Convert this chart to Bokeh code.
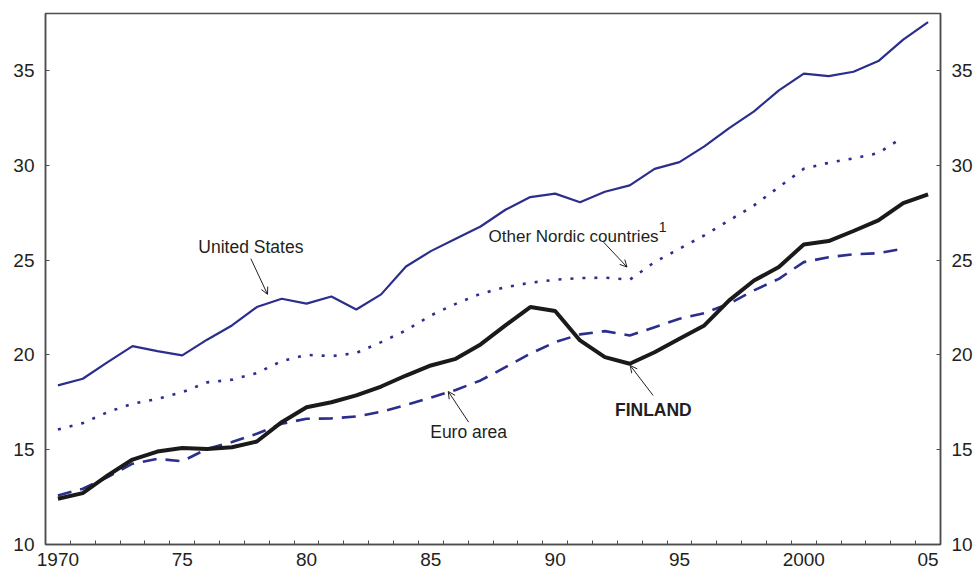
from bokeh.plotting import figure
from bokeh.models import Range1d, LinearAxis, FixedTicker, Arrow, OpenHead
from bokeh.core.properties import value
from bokeh.embed import file_html
from bokeh.resources import INLINE

years_full = list(range(1970, 2006))
years_short = list(range(1970, 2005))

united_states = [18.39, 18.74, 19.62, 20.46, 20.2, 19.97, 20.8, 21.55, 22.52, 22.96,
                 22.7, 23.08, 22.39, 23.19, 24.66, 25.47, 26.12, 26.77, 27.65, 28.32,
                 28.5, 28.05, 28.6, 28.94, 29.81, 30.16, 30.99, 31.96, 32.84, 33.95,
                 34.83, 34.7, 34.93, 35.49, 36.62, 37.55]
other_nordic = [16.07, 16.4, 16.98, 17.42, 17.68, 18.03, 18.55, 18.69, 19.04, 19.67,
                20.0, 19.93, 20.1, 20.67, 21.29, 22.08, 22.69, 23.22, 23.57, 23.8,
                23.96, 24.05, 24.07, 23.96, 24.89, 25.6, 26.3, 27.09, 27.88, 28.85,
                29.81, 30.13, 30.36, 30.64, 31.48]
euro_area = [12.58, 12.94, 13.55, 14.26, 14.52, 14.39, 15.04, 15.4, 15.84, 16.37,
             16.63, 16.65, 16.75, 17.0, 17.35, 17.75, 18.15, 18.65, 19.35, 20.06,
             20.67, 21.08, 21.25, 21.02, 21.46, 21.9, 22.2, 22.7, 23.4, 24.01,
             24.89, 25.15, 25.3, 25.36, 25.6]
finland = [12.41, 12.71, 13.64, 14.48, 14.9, 15.09, 15.03, 15.13, 15.43, 16.45,
           17.24, 17.5, 17.86, 18.33, 18.91, 19.44, 19.79, 20.55, 21.55, 22.52,
           22.31, 20.76, 19.88, 19.53, 20.14, 20.85, 21.55, 22.87, 23.92, 24.63,
           25.82, 26.0, 26.53, 27.09, 28.0, 28.46]

x_ticks = [1970, 1975, 1980, 1985, 1990, 1995, 2000, 2005]
x_tick_labels = ["1970", "75", "80", "85", "90", "95", "2000", "05"]
y_ticks = [10, 15, 20, 25, 30, 35]

NAVY = "#2B2E8C"
FONT = "Liberation Sans"
TXT = "#231F20"
AXC = "#4D4D4D"

p = figure(width=979, height=575, output_backend="svg", toolbar_location=None,
           x_range=Range1d(1969.5, 2005.5), y_range=Range1d(10, 38),
           min_border_left=45, min_border_right=39, min_border_top=13, min_border_bottom=31)
p.xgrid.visible = False
p.ygrid.visible = False
p.outline_line_color = AXC
p.outline_line_width = 1.5
p.background_fill_color = "white"
p.border_fill_color = "white"

# bottom axis
xa = p.xaxis[0]
xa.ticker = FixedTicker(ticks=x_ticks, minor_ticks=[y + 0.5 for y in range(1970, 2005)])
xa.major_label_overrides = {t: l for t, l in zip(x_ticks, x_tick_labels)}
xa.major_tick_in = 0
xa.major_tick_out = 0
xa.minor_tick_in = 4
xa.minor_tick_out = 0
xa.minor_tick_line_color = AXC
xa.axis_line_color = AXC
xa.axis_line_width = 1.5
xa.major_label_standoff = 8
xa.major_label_text_font = FONT
xa.major_label_text_font_size = "19px"
xa.major_label_text_color = TXT

# left axis
ya = p.yaxis[0]
ya.ticker = FixedTicker(ticks=y_ticks, minor_ticks=[])
ya.major_tick_in = 4
ya.major_tick_out = 0
ya.minor_tick_in = 0
ya.minor_tick_out = 0
ya.major_tick_line_color = AXC
ya.axis_line_color = AXC
ya.axis_line_width = 1.5
ya.major_label_standoff = 11
ya.major_label_text_font = FONT
ya.major_label_text_font_size = "19px"
ya.major_label_text_color = TXT

# right axis
ra = LinearAxis(ticker=FixedTicker(ticks=y_ticks, minor_ticks=[]))
ra.major_tick_in = 4
ra.major_tick_out = 0
ra.minor_tick_in = 0
ra.minor_tick_out = 0
ra.major_tick_line_color = AXC
ra.axis_line_color = AXC
ra.axis_line_width = 1.5
ra.major_label_standoff = 11
ra.major_label_text_font = FONT
ra.major_label_text_font_size = "19px"
ra.major_label_text_color = TXT
p.add_layout(ra, "right")

# series
p.line(years_full, united_states, line_color=NAVY, line_width=2.2)
p.line(years_short, other_nordic, line_color=NAVY, line_width=2.6, line_dash="3 9")
p.line(years_short, euro_area, line_color=NAVY, line_width=2.6, line_dash="14 9")
p.line(years_full, finland, line_color="#1A1A1A", line_width=4)

# annotations
def label(x, y, t, align="center", baseline="middle", size="17.5px", style="normal"):
    p.text(x=[x], y=[y], text=[t], text_font=value(FONT), text_font_size=size,
           text_align=align, text_baseline=baseline, text_color=TXT, text_font_style=style)

def arrow(x0, y0, x1, y1):
    p.add_layout(Arrow(end=OpenHead(size=7, line_width=1, line_color=TXT),
                       x_start=x0, y_start=y0, x_end=x1, y_end=y1,
                       line_width=1, line_color=TXT))

label(1977.76, 25.68, "United States")
arrow(1977.76, 25.07, 1978.43, 23.19)

label(1987.32, 26.24, "Other Nordic countries", align="left", baseline="alphabetic", size="17px")
label(1994.17, 26.98, "1", align="left", baseline="top", size="14px")
arrow(1991.95, 25.94, 1992.89, 24.63)

label(1986.52, 15.92, "Euro area")
arrow(1986.52, 16.45, 1985.70, 18.07)

label(1993.95, 17.07, "FINLAND", style="bold")
arrow(1993.94, 17.86, 1993.02, 19.44)

open("out.html", "w").write(file_html(p, INLINE))
